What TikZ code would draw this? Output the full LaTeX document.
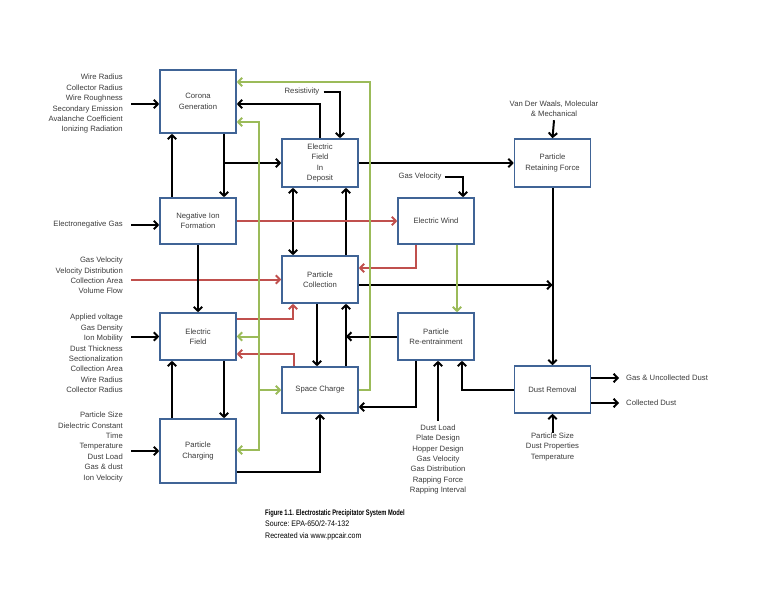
\documentclass[tikz,border=0pt]{standalone}
\usepackage{fontspec}
\setmainfont{Liberation Sans}
\newfontfamily\capbold[FakeStretch=0.72]{Liberation Sans}
\newfontfamily\capfont[FakeStretch=0.88]{Liberation Sans}
\usetikzlibrary{arrows.meta}

\definecolor{boxblue}{RGB}{64,100,150}
\definecolor{linegreen}{RGB}{155,187,89}
\definecolor{linered}{RGB}{192,80,77}
\definecolor{txtgray}{RGB}{60,60,60}

\begin{document}
\begin{tikzpicture}[x=1pt,y=-1pt,>={Straight Barb[length=4pt,width=8.5pt]},
  font=\fontsize{7.7}{10.4}\selectfont,
  blok/.style={draw=boxblue,line width=1.6pt,fill=white,minimum width=76pt,
    align=center,text=txtgray,inner sep=1pt},
  inlist/.style={align=right,anchor=east,text=txtgray,inner sep=0pt},
  lbl/.style={text=txtgray,inner sep=0pt,align=center},
  blk/.style={->,line width=2pt},
  grn/.style={->,line width=2pt,linegreen},
  rd/.style={->,line width=2pt,linered}]
  \useasboundingbox (0,0) rectangle (768,594);

  % process blocks: name / centre x / centre y / height / text
  \foreach \nm/\cx/\cy/\hh/\txt in {%
      cg/198/101.5/63/{Corona\\Generation},
      nif/198/221/46/{Negative Ion\\Formation},
      ef/198/336.5/47/{Electric\\Field},
      pch/198/451/64/{Particle\\Charging},
      efd/320/163/48/{Electric\\Field\\In\\Deposit},
      pcol/320/279.5/47/{Particle\\Collection},
      sc/320/390/46/{Space Charge},
      ew/436/221/46/{Electric Wind},
      pre/436/336.5/47/{Particle\\Re-entrainment},
      prf/552.5/163/48/{Particle\\Retaining Force},
      dr/552.5/389.5/47/{Dust Removal}}
    \node[blok,minimum height=\hh] (\nm) at (\cx,\cy) {\txt};

  % input parameter lists (left)
  \node[inlist] (incg) at (123,104) {Wire Radius\\Collector Radius\\Wire Roughness\\Secondary Emission\\Avalanche Coefficient\\Ionizing Radiation};
  \node[inlist] (innif) at (123,225) {Electronegative Gas};
  \node[inlist] (inpcol) at (123,275.5) {Gas Velocity\\Velocity Distribution\\Collection Area\\Volume Flow};
  \node[inlist] (inef) at (123,353.5) {Applied voltage\\Gas Density\\Ion Mobility\\Dust Thickness\\Sectionalization\\Collection Area\\Wire Radius\\Collector Radius};
  \node[inlist] (inpch) at (123,447) {Particle Size\\Dielectric Constant\\Time\\Temperature\\Dust Load\\Gas \& dust\\Ion Velocity};

  % other inputs and outputs
  \node[lbl] (res) at (302,92) {Resistivity};
  \node[lbl] (gvel) at (420,177) {Gas Velocity};
  \node[lbl] (vdw) at (554,109) {Van Der Waals, Molecular\\\& Mechanical};
  \node[lbl] (indr) at (552.5,447) {Particle Size\\Dust Properties\\Temperature};
  \node[lbl] (inpre) at (438,459.5) {Dust Load\\Plate Design\\Hopper Design\\Gas Velocity\\Gas Distribution\\Rapping Force\\Rapping Interval};
  \node[lbl,anchor=west] (outgas) at (626,378) {Gas \& Uncollected Dust};
  \node[lbl,anchor=west] (outdust) at (626,403) {Collected Dust};

  % caption
  \node[anchor=north west,align=left,inner sep=0pt,
    font=\capfont\fontsize{8}{11.5}\selectfont] (cap) at (265,509)
    {{\capbold\bfseries Figure 1.1. Electrostatic Precipitator System Model}\\Source:\ EPA-650/2-74-132\\Recreated via www.ppcair.com};

  % inputs into the blocks
  \draw[blk] (incg.east) ++(8,0) -- (incg.east -| cg.west);
  \draw[blk] (innif.east) ++(8,0) -- (innif.east -| nif.west);
  \draw[rd] (inpcol.east |- pcol.west) ++(8,0) -- (pcol.west);
  \draw[blk] (inef.east |- ef.west) ++(8,0) -- (ef.west);
  \draw[blk] (inpch.east |- pch.west) ++(8,0) -- (pch.west);
  \draw[blk] (res.east) ++(4,0) -| ([xshift=20pt]efd.north);
  \draw[blk] (gvel.east) ++(3,0) -| ([xshift=27pt]ew.north);
  \draw[blk] ([yshift=-3pt]vdw.south) -- (prf.north);
  \draw[blk] (indr.north) -- (dr.south);
  \draw[blk] ([yshift=4pt]inpre.north) -- (inpre.north |- pre.south);
  \draw[blk] (dr.east |- outgas) -- ([xshift=-7pt]outgas.west);
  \draw[blk] (dr.east |- outdust) -- ([xshift=-7pt]outdust.west);

  % left column
  \coordinate (cgdown) at ([xshift=26pt]cg.south);
  \draw[blk] ([xshift=-26pt]nif.north) -- ([xshift=-26pt]cg.south);
  \draw[blk] (cgdown) -- (cgdown |- nif.north);
  \draw[blk] (cgdown |- efd.west) -- (efd.west);
  \draw[blk] (nif.south) -- (ef.north);
  \draw[blk] ([xshift=26pt]ef.south) -- ([xshift=26pt]pch.north);
  \draw[blk] ([xshift=-26pt]pch.north) -- ([xshift=-26pt]ef.south);
  \draw[blk] (efd.north) |- ([yshift=-2.5pt]cg.east);

  % middle column
  \coordinate (scup) at ([xshift=26pt]sc.north);
  \draw[blk,<->] ([xshift=-27pt]efd.south) -- ([xshift=-27pt]pcol.north);
  \draw[blk] ([xshift=26pt]pcol.north) -- ([xshift=26pt]efd.south);
  \draw[blk] ([xshift=-3pt]pcol.south) -- ([xshift=-3pt]sc.north);
  \draw[blk] (scup) -- (scup |- pcol.south);
  \draw[blk] (pre.west) -- (pre.west -| scup);
  \draw[blk] ([xshift=-20pt]pre.south) |- ([yshift=-17pt]sc.east);
  \draw[blk] ([yshift=-21pt]pch.east) -| (sc.south);

  % right side
  \coordinate (pcout) at ([yshift=-5.5pt]pcol.east);
  \draw[blk] (efd.east) -- (prf.west);
  \draw[blk] (prf.south) -- (dr.north);
  \draw[blk] (pcout) -- (pcout -| prf.south);
  \draw[blk] (dr.west) -| ([xshift=26pt]pre.south);

  % red paths
  \draw[rd] (nif.east) -- (ew.west);
  \draw[rd] ([xshift=-20pt]ew.south) |- ([yshift=11.5pt]pcol.east);
  \draw[rd] ([yshift=17.5pt]ef.east) -| ([xshift=-27pt]pcol.south);
  \draw[rd] ([xshift=-26pt]sc.north) |- ([yshift=-17.5pt]ef.east);

  % green paths
  \coordinate (gtop) at (259,122);
  \coordinate (gbot) at (259,450);
  \draw[grn,<->] (gtop -| cg.east) -| (gbot) -- (gbot -| pch.east);
  \draw[grn] (gtop |- ef.east) -- (ef.east);
  \draw[grn] (gtop |- sc.west) -- (sc.west);
  \draw[grn] (sc.east) -- ++(11,0) |- ([yshift=19.5pt]cg.east);
  \draw[grn] ([xshift=21pt]ew.south) -- ([xshift=21pt]pre.north);
\end{tikzpicture}
\end{document}
